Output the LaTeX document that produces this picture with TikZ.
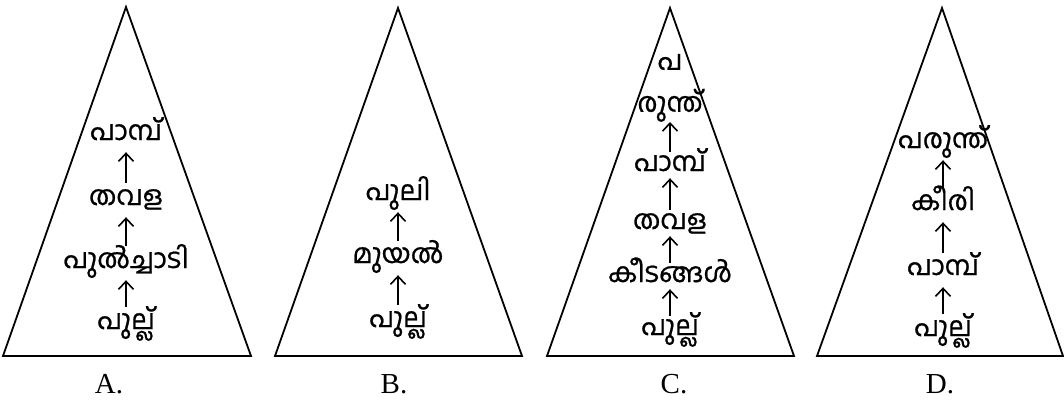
\documentclass[tikz,border=0pt]{standalone}
\usepackage{fontspec}
\newfontfamily\mlfont[Script=Malayalam, FakeBold=0.8]{Hind Kochi}
\newfontfamily\optfont{Liberation Serif}
\usetikzlibrary{arrows.meta}

\begin{document}
\begin{tikzpicture}[
    x=1pt, y=1pt,
    % Styles
    pyramid/.style={draw, line width=1.8pt, line join=miter},
    foodtext/.style={inner sep=0pt, font=\mlfont\fontsize{27}{42}\selectfont},
    food/.style={foodtext, anchor=base, text height=22pt, text depth=12pt},
    optlabel/.style={anchor=base, font=\optfont\fontsize{29}{32}\selectfont},
    arrow/.style={-{Straight Barb[length=8pt,width=15pt]}, line width=1.6pt},
]
\useasboundingbox (0,0) rectangle (1064,405);

    % Pyramids
    \draw[pyramid] (3,49) -- (126,398) -- (251,49) -- cycle;
    \draw[pyramid] (275,49) -- (398,397) -- (522,49) -- cycle;
    \draw[pyramid] (547,49) -- (670,397) -- (794,49) -- cycle;
    \draw[pyramid] (817,49) -- (942,397) -- (1063,49) -- cycle;

    % Chain A
    \node[food] (a1) at (126,76) {പുല്ല്};
    \node[food] (a2) at (126,137) {പുൽച്ചാടി};
    \node[food] (a3) at (126,200) {തവള};
    \node[food] (a4) at (126,265) {പാമ്പ്};

    % Chain B
    \node[food] (b1) at (398,78) {പുല്ല്};
    \node[food] (b2) at (398,142) {മുയൽ};
    \node[food] (b3) at (398,205) {പുലി};

    % Chain C (tighter spacing)
    \begin{scope}[food/.append style={text height=19pt, text depth=7pt}]
    \node[food] (c1) at (670,70) {പുല്ല്};
    \node[food] (c2) at (670,123) {കീടങ്ങൾ};
    \node[food] (c3) at (670,176) {തവള};
    \node[food] (c4) at (670,234) {പാമ്പ്};
    \node[foodtext, align=center, anchor=south] (c5) at (670,283) {പ\\രുന്ത്};
    \end{scope}

    % Chain D
    \node[food] (d1) at (943,69) {പുല്ല്};
    \node[food] (d2) at (943,130) {പാമ്പ്};
    \node[food] (d3) at (943,195) {കീരി};
    \node[food] (d4) at (943,257) {പരുന്ത്};

    % Arrows
    \foreach \p/\q in {a1/a2, a2/a3, a3/a4, b1/b2, b2/b3,
                       c1/c2, c2/c3, c3/c4, c4/c5, d1/d2, d2/d3, d3/d4} {
        \draw[arrow] (\p.north) -- (\q.south);
    }

    % Option labels
    \node[optlabel] (la) at (109,12) {A.};
    \node[optlabel] (lb) at (394,12) {B.};
    \node[optlabel] (lc) at (674,12) {C.};
    \node[optlabel] (ld) at (940,12) {D.};

\end{tikzpicture}
\end{document}
